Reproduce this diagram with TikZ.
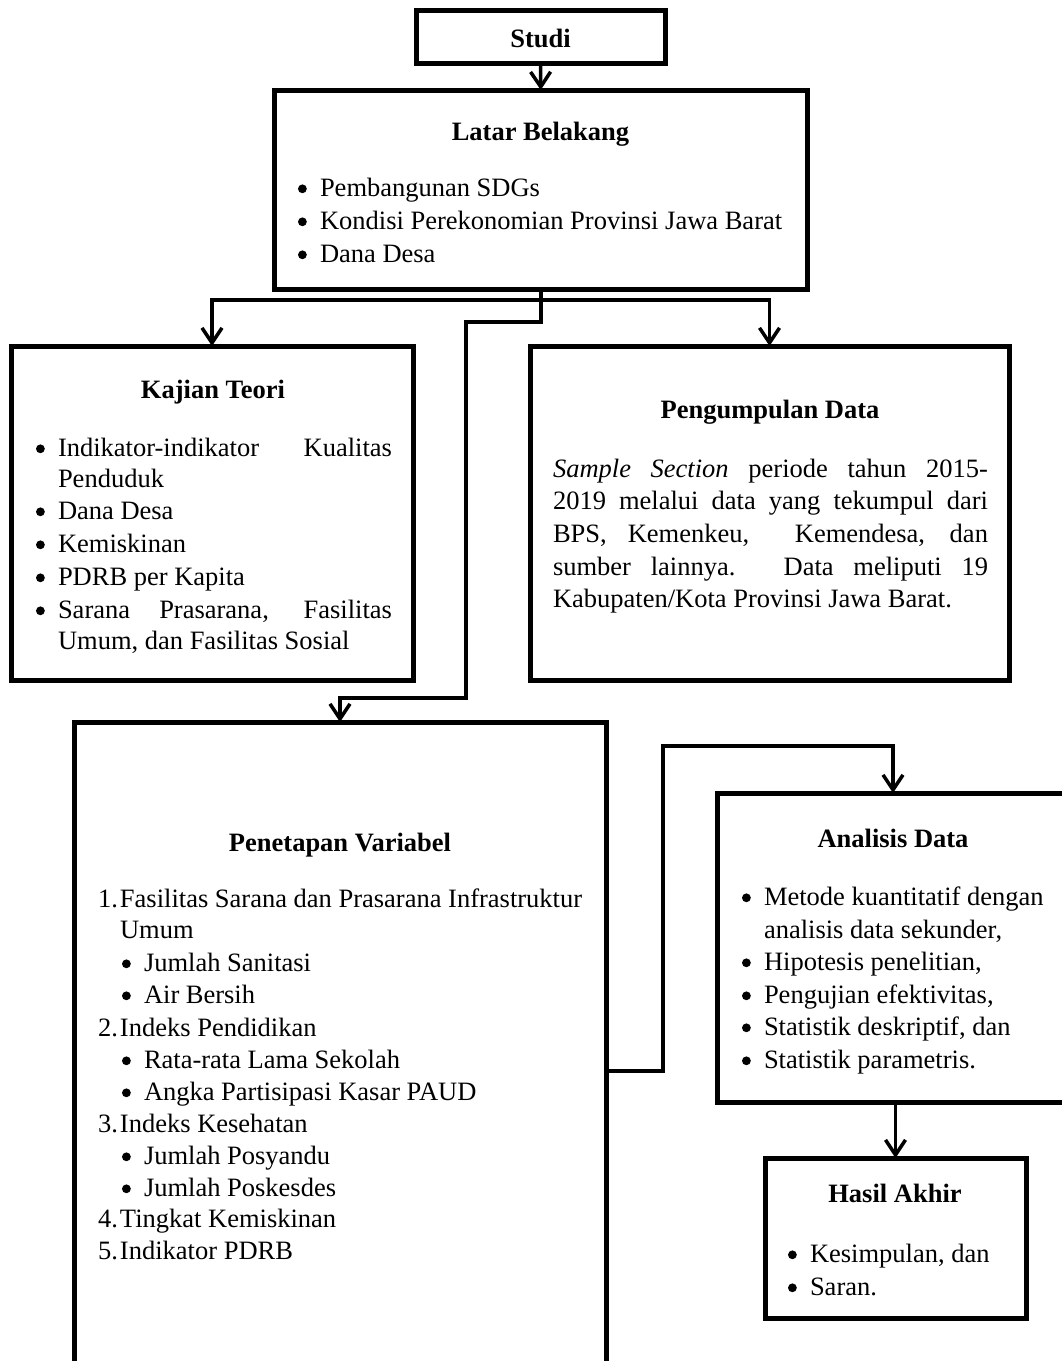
\documentclass[tikz,border=0pt]{standalone}
\usepackage{fontspec}
\setmainfont{Liberation Serif}
\usetikzlibrary{arrows.meta}
\newcommand\bul{\makebox[22pt][l]{\tikz[x=1pt,y=1pt,baseline=0pt]\fill (4.6,7.2) circle[radius=4.4];}}
\newcommand\num[1]{\makebox[22pt][l]{#1}}
\tikzset{
  box/.style={draw, line width=5pt, rectangle, inner sep=0pt, outer sep=0pt},
  conn/.style={line width=3.5pt},
  arr/.style={line width=3.5pt, -{Straight Barb[length=15pt,width=20pt]}},
  txt/.style={anchor=base west, inner sep=0pt, outer sep=0pt, font=\fontsize{26.5}{32}\selectfont},
  ttl/.style={anchor=base, inner sep=0pt, outer sep=0pt, font=\fontsize{26.5}{32}\selectfont\bfseries}
}
\begin{document}
\begin{tikzpicture}[x=1pt,y=-1pt]
\path[use as bounding box, clip] (0,0) rectangle (1062,1361);
\fill[white] (0,0) rectangle (1062,1361);

% boxes
\node[box, minimum width=249pt, minimum height=53pt] (studi) at (540.5,36.5) {};
\node[box, minimum width=532.5pt, minimum height=199pt] (latar) at (540.75,189.5) {};
\node[box, minimum width=402pt, minimum height=334pt] (kajian) at (212,513) {};
\node[box, minimum width=479pt, minimum height=334pt] (pengum) at (769.5,513) {};
\node[box, minimum width=532pt, minimum height=698pt] (penet) at (340,1071) {};
\node[box, minimum width=373pt, minimum height=309pt] (anal) at (903.5,947.5) {};
\node[box, minimum width=261pt, minimum height=160pt] (hasil) at (895.5,1238) {};

% connectors
\coordinate (br) at (540.75,300);
\coordinate (bend1) at (540.75,322);
\coordinate (bend2) at (466,322);
\coordinate (bend3) at (466,698);
\coordinate (bend4) at (663,1071);
\coordinate (bend5) at (663,746);
\coordinate (atop) at (893,793);
\draw[arr] (studi.south) -- (latar.north);
\draw[conn] (latar.south) -- (br);
\draw[arr] (br) -| (kajian.north);
\draw[arr] (br) -| (pengum.north);
\draw[arr] (br) -- (bend1) -- (bend2) -- (bend3) -| (penet.north);
\draw[arr] (penet.east) -- (bend4) -- (bend5) -| (atop);
\draw[arr] (hasil.north |- anal.south) -- (hasil.north);

% titles
\node[ttl] (tStudi) at (540.5,47) {Studi};
\node[ttl] (tLatar) at (540.5,140) {Latar Belakang};
\node[ttl] (tKajian) at (213,398) {Kajian Teori};
\node[ttl] (tPengum) at (770,418) {Pengumpulan Data};
\node[ttl] (tPenet) at (340,851) {Penetapan Variabel};
\node[ttl] (tAnal) at (893,847) {Analisis Data};
\node[ttl] (tHasil) at (895,1202) {Hasil Akhir};

% Latar Belakang
\node[txt] (lat1) at (298,196) {\bul Pembangunan SDGs};
\node[txt] (lat2) at (298,229) {\bul Kondisi Perekonomian Provinsi Jawa Barat};
\node[txt] (lat3) at (298,262) {\bul Dana Desa};

% Kajian Teori
\node[txt] (kaj1) at (36,456) {\bul\hbox to 334pt{Indikator-indikator Kualitas}};
\node[txt] (kaj2) at (58,487) {Penduduk};
\node[txt] (kaj3) at (36,519) {\bul Dana Desa};
\node[txt] (kaj4) at (36,552) {\bul Kemiskinan};
\node[txt] (kaj5) at (36,585) {\bul PDRB per Kapita};
\node[txt] (kaj6) at (36,618) {\bul\hbox to 334pt{Sarana Prasarana, Fasilitas}};
\node[txt] (kaj7) at (58,649) {Umum, dan Fasilitas Sosial};

% Pengumpulan Data
\node[txt] (pen1) at (553,477) {\hbox to 435pt{\textit{Sample Section} periode tahun 2015-}};
\node[txt] (pen2) at (553,509) {\hbox to 435pt{2019 melalui data yang tekumpul dari}};
\node[txt] (pen3) at (553,542) {\hbox to 435pt{BPS, Kemenkeu, \ Kemendesa, dan}};
\node[txt] (pen4) at (553,575) {\hbox to 435pt{sumber lainnya. Data meliputi 19}};
\node[txt] (pen5) at (553,607) {Kabupaten/Kota Provinsi Jawa Barat.};

% Penetapan Variabel
\node[txt] (var1) at (98,907) {\num{1.}Fasilitas Sarana dan Prasarana Infrastruktur};
\node[txt] (var2) at (120,938) {Umum};
\node[txt] (var3) at (122,971) {\bul Jumlah Sanitasi};
\node[txt] (var4) at (122,1003) {\bul Air Bersih};
\node[txt] (var5) at (98,1036) {\num{2.}Indeks Pendidikan};
\node[txt] (var6) at (122,1068) {\bul Rata-rata Lama Sekolah};
\node[txt] (var7) at (122,1100) {\bul Angka Partisipasi Kasar PAUD};
\node[txt] (var8) at (98,1132) {\num{3.}Indeks Kesehatan};
\node[txt] (var9) at (122,1164) {\bul Jumlah Posyandu};
\node[txt] (var10) at (122,1196) {\bul Jumlah Poskesdes};
\node[txt] (var11) at (98,1227) {\num{4.}Tingkat Kemiskinan};
\node[txt] (var12) at (98,1259) {\num{5.}Indikator PDRB};

% Analisis Data
\node[txt] (an1) at (742,905) {\bul Metode kuantitatif dengan};
\node[txt] (an2) at (764,938) {analisis data sekunder,};
\node[txt] (an3) at (742,970) {\bul Hipotesis penelitian,};
\node[txt] (an4) at (742,1003) {\bul Pengujian efektivitas,};
\node[txt] (an5) at (742,1035) {\bul Statistik deskriptif, dan};
\node[txt] (an6) at (742,1068) {\bul Statistik parametris.};

% Hasil Akhir
\node[txt] (has1) at (788,1262) {\bul Kesimpulan, dan};
\node[txt] (has2) at (788,1295) {\bul Saran.};
\end{tikzpicture}
\end{document}
